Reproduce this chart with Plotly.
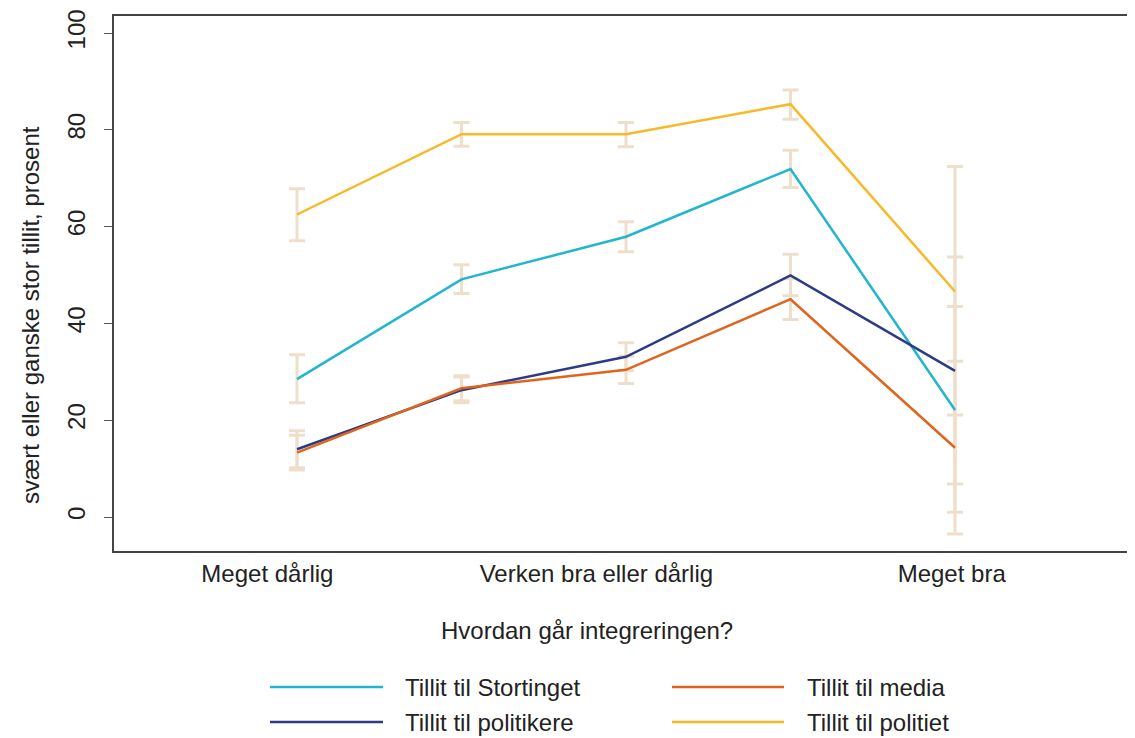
import plotly.graph_objects as go

# ---- data ----
x_pos = [1, 2, 3, 4, 5]
tick_vals = [0.82, 2.82, 4.98]
tick_text = ["Meget dårlig", "Verken bra eller dårlig", "Meget bra"]

series_names = ["Tillit til Stortinget", "Tillit til politikere", "Tillit til media", "Tillit til politiet"]
stortinget = [28.5, 49.1, 57.9, 71.9, 22.1]
stortinget_hi = [33.5, 52.1, 61.0, 75.8, 43.5]
stortinget_lo = [23.6, 46.2, 54.8, 68.1, 1.0]

politikere = [14.0, 26.2, 33.1, 49.9, 30.2]
politikere_hi = [17.8, 28.9, 36.0, 54.3, 53.7]
politikere_lo = [10.2, 23.6, 30.2, 45.7, 6.8]

media = [13.3, 26.6, 30.4, 45.0, 14.3]
media_hi = [16.9, 29.2, 33.2, 49.2, 32.2]
media_lo = [9.7, 24.0, 27.6, 40.8, -3.5]

politiet = [62.5, 79.1, 79.1, 85.3, 46.6]
politiet_hi = [67.8, 81.5, 81.5, 88.2, 72.4]
politiet_lo = [57.1, 76.6, 76.5, 82.2, 21.1]

colors = ["#22B5CF", "#2C3B86", "#E0651C", "#F8B828"]
err_color = "#EEDFCB"
FONT = "Liberation Sans, Arial, sans-serif"
FS = 24

vals = [stortinget, politikere, media, politiet]
his = [stortinget_hi, politikere_hi, media_hi, politiet_hi]
los = [stortinget_lo, politikere_lo, media_lo, politiet_lo]

fig = go.Figure()

# error bars first (behind lines)
for v, hi, lo in zip(vals, his, los):
    fig.add_trace(go.Scatter(
        x=x_pos, y=v, mode="markers", marker=dict(size=1, opacity=0),
        showlegend=False, hoverinfo="skip",
        error_y=dict(type="data", symmetric=False,
                     array=[h - a for h, a in zip(hi, v)],
                     arrayminus=[a - l for a, l in zip(v, lo)],
                     color=err_color, thickness=3, width=8)))

for name, v, c in zip(series_names, vals, colors):
    fig.add_trace(go.Scatter(x=x_pos, y=v, mode="lines", name=name,
                             line=dict(color=c, width=2.5), showlegend=False))

OFF = 8  # page body margin
W, H = 1135, 730
L, R, T, B = 106, 0, 8, 187
plot_left = OFF + L
plot_right = OFF + W - R
plot_top = OFF + T
plot_bot = OFF + H - B
pw, ph = plot_right - plot_left, plot_bot - plot_top

def px(xp):
    return (xp - plot_left) / pw

def py(yp):
    return (plot_bot - yp) / ph

# x scale: x=1 at page px 297, 164.5 px per unit
xs = 164.5
x_range = [1 - (297 - plot_left) / xs, 1 + (plot_right - 297) / xs]
# y scale: 0 at page px 517, 100 at 33
ys = (517 - 33) / 100
y_range = [-(plot_bot - 517) / ys, (517 - plot_top) / ys]

# manual legend
legend_items = [(0, 270, 383, 403, 687), (2, 672, 784, 805, 687),
                (1, 270, 383, 403, 722), (3, 672, 784, 805, 722)]
shapes = []
annotations = []
for idx, x0, x1, xt, yy in legend_items:
    shapes.append(dict(type="line", xref="paper", yref="paper",
                       x0=px(x0), x1=px(x1), y0=py(yy), y1=py(yy),
                       line=dict(color=colors[idx], width=2.5)))
    annotations.append(dict(xref="paper", yref="paper", x=px(xt), y=py(yy),
                            text=series_names[idx], showarrow=False,
                            xanchor="left", yanchor="middle",
                            font=dict(family=FONT, size=FS, color="#222222")))

annotations.append(dict(xref="paper", yref="paper", x=px(587), y=py(630),
                        text="Hvordan går integreringen?", showarrow=False,
                        xanchor="center", yanchor="middle",
                        font=dict(family=FONT, size=FS, color="#222222")))
annotations.append(dict(xref="paper", yref="paper", x=px(30), y=py(315),
                        text="svært eller ganske stor tillit, prosent", showarrow=False,
                        textangle=-90, xanchor="center", yanchor="middle",
                        font=dict(family=FONT, size=FS, color="#222222")))

fig.update_layout(
    width=W, height=H,
    margin=dict(l=L, r=R, t=T, b=B),
    plot_bgcolor="white", paper_bgcolor="white",
    font=dict(family=FONT, size=FS, color="#222222"),
    showlegend=False,
    shapes=shapes, annotations=annotations,
    xaxis=dict(range=x_range, tickvals=tick_vals, ticktext=tick_text,
               ticks="", showgrid=False, zeroline=False,
               showline=True, mirror=True, linecolor="#444444", linewidth=1.5,
               tickfont=dict(family=FONT, size=FS, color="#222222")),
    yaxis=dict(range=y_range, tickvals=[0, 20, 40, 60, 80, 100],
               ticks="outside", ticklen=8, tickcolor="#555555",
               tickangle=-90, showgrid=False, zeroline=False,
               ticklabelstandoff=10,
               showline=True, linecolor="#444444", linewidth=1.5,
               tickfont=dict(family=FONT, size=FS, color="#222222")),
)

fig.write_html("out.html")
